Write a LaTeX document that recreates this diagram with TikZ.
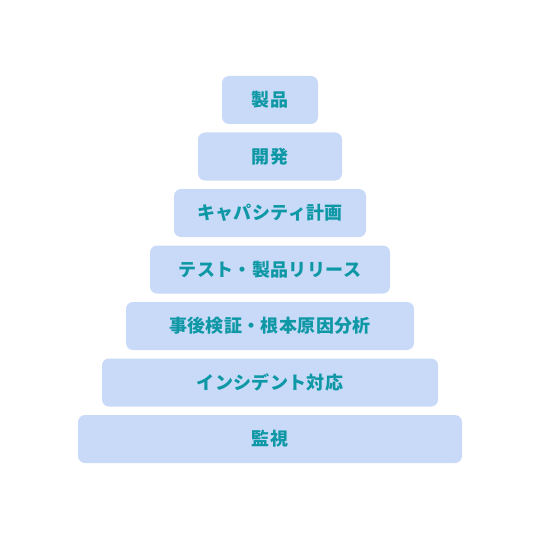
\documentclass[tikz,border=0pt]{standalone}
\usepackage{fontspec}
\newfontfamily\jpfont[LetterSpace=2]{Noto Sans CJK JP}
\usepackage{tikz}
\usetikzlibrary{positioning}
\definecolor{boxblue}{HTML}{C9DAF8}
\definecolor{tealtext}{HTML}{0E98A5}
\tikzstyle{lv}=[%
      rectangle, draw=none, fill=boxblue, rounded corners=7pt,
      text=tealtext, font=\jpfont\bfseries\fontsize{18}{21}\selectfont,
      minimum height=48pt, inner sep=0pt, outer sep=0pt, align=center
]
\begin{document}
\begin{tikzpicture}[x=1pt, y=1pt, node distance=8.5pt]
    \useasboundingbox (0,0) rectangle (540,-540);
    \node[lv, minimum width=96pt]  (product)  at (270,-100) {製品};
    \node[lv, minimum width=144pt] (dev)      [below = of product]  {開発};
    \node[lv, minimum width=192pt] (capacity) [below = of dev]      {キャパシティ計画};
    \node[lv, minimum width=240pt] (release)  [below = of capacity] {テスト・製品リリース};
    \node[lv, minimum width=288pt] (postmort) [below = of release]  {事後検証・根本原因分析};
    \node[lv, minimum width=336pt] (incident) [below = of postmort] {インシデント対応};
    \node[lv, minimum width=384pt] (monitor)  [below = of incident] {監視};
\end{tikzpicture}
\end{document}
